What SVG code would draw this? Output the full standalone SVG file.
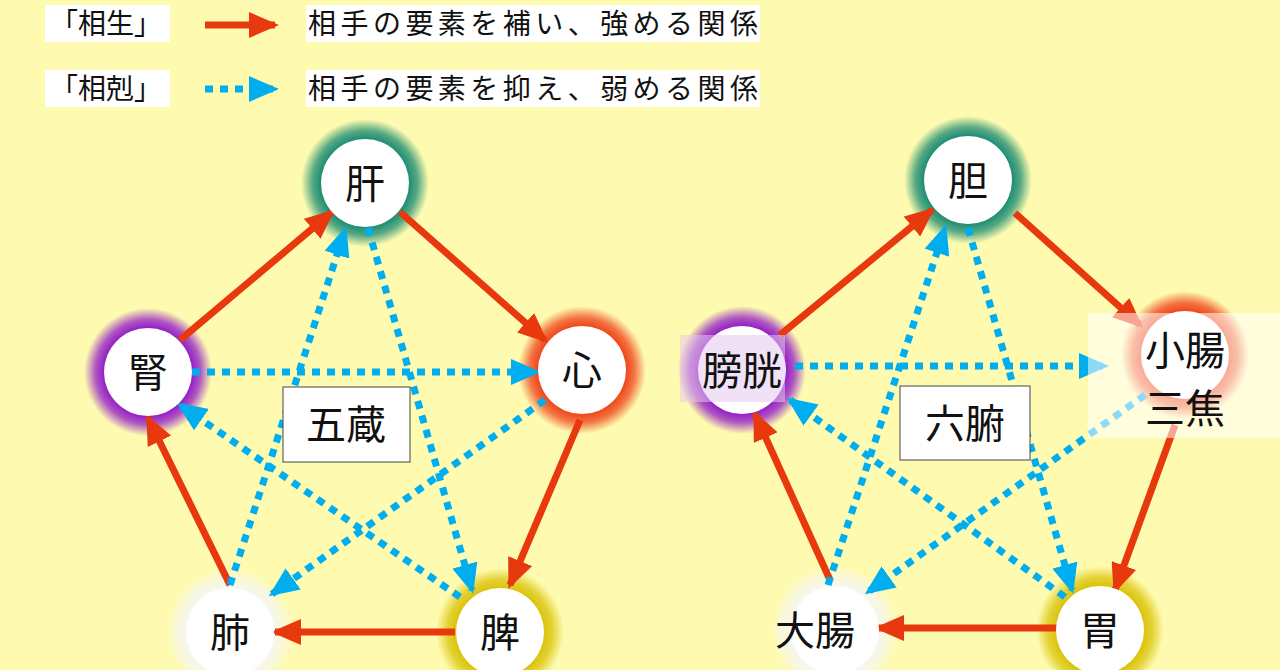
<svg xmlns="http://www.w3.org/2000/svg" width="1280" height="670" viewBox="0 0 1280 670">
<style>
.t{font-family:"Noto Sans CJK JP","Noto Sans CJK SC",sans-serif;fill:#111}
.n{font-size:40px;text-anchor:middle;dominant-baseline:central}
.r{stroke:#e8380d;stroke-width:7;fill:none;marker-end:url(#ar)}
.b{stroke:#00aeef;stroke-width:7;stroke-dasharray:8 7;fill:none;marker-end:url(#ab)}
.c{fill:#fff}
</style>
<defs>
<marker id="ar" markerUnits="userSpaceOnUse" markerWidth="30" markerHeight="26" refX="26" refY="13" orient="auto"><path d="M0,0L30,13L0,26z" fill="#e8380d"/></marker>
<marker id="ab" markerUnits="userSpaceOnUse" markerWidth="30" markerHeight="26" refX="26" refY="13" orient="auto"><path d="M0,0L30,13L0,26z" fill="#00aeef"/></marker>
<radialGradient id="gT"><stop offset="0.65" stop-color="#0e8570"/><stop offset="0.82" stop-color="#0e8570" stop-opacity="0.7"/><stop offset="1" stop-color="#0e8570" stop-opacity="0"/></radialGradient>
<radialGradient id="gP"><stop offset="0.65" stop-color="#8c10c8"/><stop offset="0.82" stop-color="#8c10c8" stop-opacity="0.7"/><stop offset="1" stop-color="#8c10c8" stop-opacity="0"/></radialGradient>
<radialGradient id="gR"><stop offset="0.65" stop-color="#ee3a12"/><stop offset="0.82" stop-color="#ee3a12" stop-opacity="0.7"/><stop offset="1" stop-color="#ee3a12" stop-opacity="0"/></radialGradient>
<radialGradient id="gW"><stop offset="0.65" stop-color="#f6f6f2"/><stop offset="0.82" stop-color="#f6f6f2" stop-opacity="0.7"/><stop offset="1" stop-color="#f6f6f2" stop-opacity="0"/></radialGradient>
<radialGradient id="gY"><stop offset="0.65" stop-color="#d8c000"/><stop offset="0.82" stop-color="#d8c000" stop-opacity="0.7"/><stop offset="1" stop-color="#d8c000" stop-opacity="0"/></radialGradient>
</defs>
<rect width="1280" height="670" fill="#fefbb0"/>
<g id="legend">
<rect x="45" y="5" width="125" height="37" fill="#fff"/><text class="t" x="50" y="34" font-size="28">「相生」</text>
<rect x="306" y="5" width="454" height="37" fill="#fff"/><text class="t" x="308" y="34" font-size="28" textLength="450">相手の要素を補い、強める関係</text>
<rect x="45" y="70" width="125" height="37" fill="#fff"/><text class="t" x="50" y="99" font-size="28">「相剋」</text>
<rect x="306" y="70" width="454" height="37" fill="#fff"/><text class="t" x="308" y="99" font-size="28" textLength="450">相手の要素を抑え、弱める関係</text>
<line x1="205" y1="25" x2="275" y2="25" class="r" stroke-width="8"/>
<line x1="205" y1="89" x2="275" y2="89" class="b" stroke-width="8"/>
</g>
<g id="glows">
<circle cx="365" cy="183" r="64" fill="url(#gT)"/><circle cx="148" cy="372" r="64" fill="url(#gP)"/><circle cx="582" cy="370" r="64" fill="url(#gR)"/><circle cx="230" cy="632" r="64" fill="url(#gW)"/><circle cx="500" cy="632" r="64" fill="url(#gY)"/>
<circle cx="968" cy="180" r="64" fill="url(#gT)"/><circle cx="742" cy="370" r="64" fill="url(#gP)"/><circle cx="1185" cy="355" r="64" fill="url(#gR)"/><circle cx="835" cy="630" r="64" fill="url(#gW)"/><circle cx="1100" cy="630" r="64" fill="url(#gY)"/>
</g>
<g id="connectors">
<line x1="180" y1="340" x2="332" y2="212" class="r"/>
<line x1="400" y1="212" x2="545" y2="340" class="r"/>
<line x1="580" y1="420" x2="510" y2="585" class="r"/>
<line x1="455" y1="632" x2="275" y2="632" class="r"/>
<line x1="230" y1="585" x2="148" y2="418" class="r"/>
<line x1="192" y1="372" x2="537" y2="372" class="b"/>
<line x1="545" y1="400" x2="272" y2="594" class="b"/>
<line x1="230" y1="585" x2="345" y2="230" class="b"/>
<line x1="368" y1="228" x2="472" y2="590" class="b"/>
<line x1="460" y1="597" x2="180" y2="405" class="b"/>
<line x1="780" y1="335" x2="932" y2="210" class="r"/>
<line x1="1015" y1="213" x2="1140" y2="325" class="r"/>
<line x1="1175" y1="425" x2="1115" y2="590" class="r"/>
<line x1="1058" y1="628" x2="878" y2="628" class="r"/>
<line x1="830" y1="580" x2="755" y2="414" class="r"/>
<line x1="795" y1="366" x2="1105" y2="366" class="b"/>
<line x1="1145" y1="395" x2="868" y2="592" class="b"/>
<line x1="828" y1="585" x2="945" y2="228" class="b"/>
<line x1="968" y1="228" x2="1072" y2="590" class="b"/>
<line x1="1065" y1="597" x2="790" y2="400" class="b"/>
</g>
<g id="n-kan"><circle class="c" cx="365" cy="183" r="44"/><text class="t n" x="365" y="181">肝</text></g>
<g id="n-jin"><circle class="c" cx="148" cy="372" r="44"/><text class="t n" x="148" y="370">腎</text></g>
<g id="n-shin"><circle class="c" cx="582" cy="370" r="44"/><text class="t n" x="582" y="368">心</text></g>
<g id="n-hai"><circle class="c" cx="230" cy="632" r="44"/><text class="t n" x="230" y="630">肺</text></g>
<g id="n-hi"><circle class="c" cx="500" cy="632" r="44"/><text class="t n" x="500" y="630">脾</text></g>
<g id="l-gozo"><rect x="283" y="387" width="127" height="75" fill="#fff" stroke="#444"/><text class="t n" x="346" y="422" font-size="46">五蔵</text></g>
<g id="n-tan"><circle class="c" cx="968" cy="180" r="44"/><text class="t n" x="968" y="178">胆</text></g>
<g id="n-boko"><circle class="c" cx="742" cy="370" r="44"/><rect x="680" y="335" width="105" height="67" fill="#e4c8f0" fill-opacity="0.55"/><text class="t n" x="742" y="368">膀胱</text></g>
<g id="n-sho"><circle class="c" cx="1185" cy="355" r="44"/><rect x="1088" y="313" width="192" height="125" fill="#fff" fill-opacity="0.55"/><text class="t n" x="1185" y="348">小腸</text><text class="t n" x="1185" y="406">三焦</text></g>
<g id="n-dai"><circle class="c" cx="835" cy="630" r="44"/><text class="t n" x="815" y="628">大腸</text></g>
<g id="n-i"><circle class="c" cx="1100" cy="630" r="44"/><text class="t n" x="1100" y="628">胃</text></g>
<g id="l-roppu"><rect x="900" y="386" width="130" height="74" fill="#fff" stroke="#444"/><text class="t n" x="965" y="421" font-size="46">六腑</text></g>
</svg>
